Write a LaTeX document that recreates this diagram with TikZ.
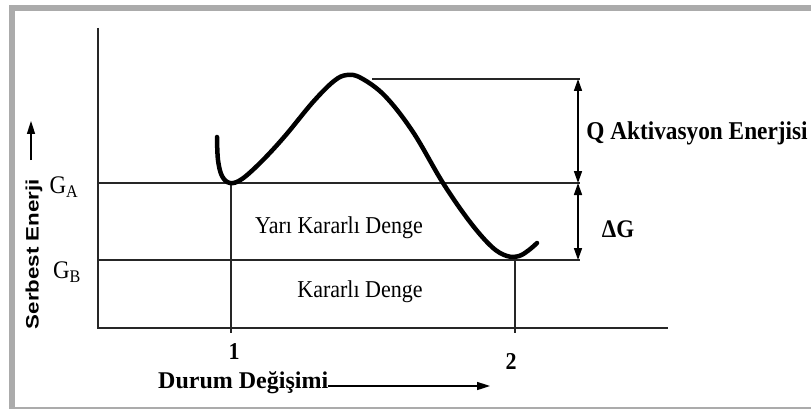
\documentclass[tikz,border=0pt]{standalone}
\usepackage{fontspec}
\setmainfont{Liberation Serif}
\setsansfont{Liberation Sans}
\usetikzlibrary{arrows.meta}
\newcommand{\vstr}[1]{\scalebox{1}[1.1]{#1}}
\begin{document}
\begin{tikzpicture}[x=1pt,y=-1pt,
  axis/.style={line width=1.7pt,black!85},
  thin/.style={line width=1.4pt,black!85},
  curve/.style={line width=4.5pt,line cap=round,line join=round},
  dim/.style={line width=1.6pt,{Triangle[length=12pt,width=8pt]}-{Triangle[length=12pt,width=8pt]}},
  lbl/.style={font=\fontsize{22}{24}\selectfont,inner sep=0pt},
  blbl/.style={font=\fontsize{22}{24}\selectfont\bfseries,inner sep=0pt}]
\useasboundingbox (0,0) rectangle (811,409);
% frame
\fill[black!33] (9,5) rectangle (811,409);
\fill[white] (15,11) rectangle (811,407);
% coordinates
\coordinate (ytop) at (98,28);
\coordinate (o) at (98,328);
\coordinate (xend) at (668,328);
\coordinate (gaL) at (98,183);
\coordinate (gaR) at (580,183);
\coordinate (gbL) at (98,260);
\coordinate (gbR) at (580,260);
\coordinate (qL) at (372,79);
\coordinate (qR) at (580,79);
\coordinate (aq) at (578,79);
\coordinate (aa) at (578,183);
\coordinate (ab) at (578,260);
\coordinate (v1t) at (231,183);
\coordinate (v1b) at (231,333);
\coordinate (v2t) at (515,258);
\coordinate (v2b) at (515,333);
% axes and lines
\draw[axis] (ytop) -- (o) -- (xend);
\draw[thin] (gaL) -- (gaR);
\draw[thin] (gbL) -- (gbR);
\draw[thin] (qL) -- (qR);
\draw[thin] (v1t) -- (v1b);
\draw[thin] (v2t) -- (v2b);
\draw[dim] (aq) -- (aa);
\draw[dim] (aa) -- (ab);
% curve
\draw[curve] plot[smooth,tension=0.6] coordinates {(217,137) (218,160) (222,176) (230,183) (242,179) (262,161) (285,136) (313,102) (334,81) (347,75) (361,78) (385,96) (413,132) (443,183) (470,222) (492,247) (507,256) (519,256) (529,250) (537,243)};
% labels
\node[lbl,font=\fontsize{23}{25}\selectfont] (GA) at (64,187) {\vstr{G\textsubscript{A}}};
\node[lbl,font=\fontsize{23}{25}\selectfont] (GB) at (67,272) {\vstr{G\textsubscript{B}}};
\node[blbl,font=\fontsize{23.3}{25}\selectfont\bfseries] (Q) at (697,133) {\vstr{Q Aktivasyon Enerjisi}};
\node[blbl,font=\fontsize{23}{25}\selectfont\bfseries] (dG) at (618,229) {\vstr{ΔG}};
\node[lbl] (yk) at (339,228) {\vstr{Yarı Kararlı Denge}};
\node[lbl] (kd) at (360,292) {\vstr{Kararlı Denge}};
\node[blbl] (n1) at (234,352) {\vstr{1}};
\node[blbl] (n2) at (511,361) {\vstr{2}};
\node[blbl,font=\fontsize{24}{26}\selectfont\bfseries,anchor=west] (dd) at (158,383) {Durum Değişimi};
\coordinate (ddend) at (490,386);
\draw[line width=1.6pt,-{Triangle[length=13pt,width=8pt]}] (dd.east) ++(0,3) -- (ddend);
\node[inner sep=0pt,font=\sffamily\bfseries\fontsize{18}{20}\selectfont,rotate=90] (se) at (34,254) {\scalebox{1.24}[1]{Serbest Enerji}};
\coordinate (seA) at (31,160);
\coordinate (seB) at (31,121);
\draw[line width=1.6pt,-{Triangle[length=13pt,width=8pt]}] (seA) -- (seB);
\end{tikzpicture}
\end{document}
